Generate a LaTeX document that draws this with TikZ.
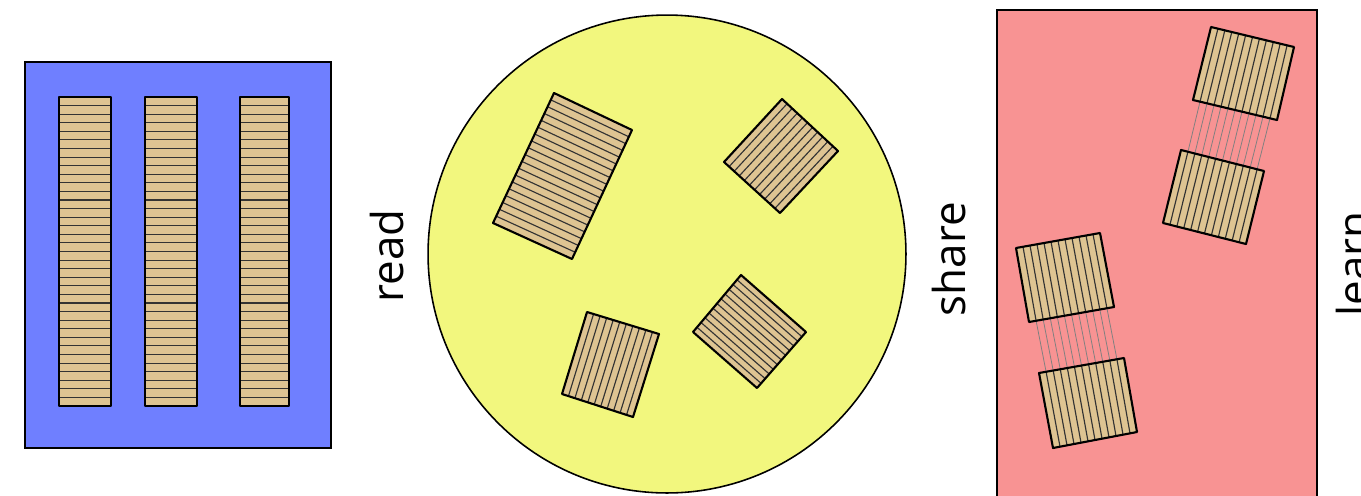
\documentclass[tikz,border=0pt]{standalone}
\usepackage{fontspec}
\newfontfamily\labelfont{Open Sans}
\usepackage{tikz}
\usetikzlibrary{calc}
\definecolor{panelblue}{RGB}{111, 127, 255}
\definecolor{panelyellow}{RGB}{242, 247, 126}
\definecolor{panelred}{RGB}{248, 147, 147}
\definecolor{woodtan}{RGB}{222, 196, 146}

% slatted box: corners #1 #2 #3 #4 in order, #5 slats, lines parallel to #1--#4
\newcommand{\slatbox}[5]{%
  \fill[wood] (#1) -- (#2) -- (#3) -- (#4) -- cycle;
  \pgfmathtruncatemacro{\lastslat}{#5-1}
  \foreach \i in {1,...,\lastslat} {
    \draw[grain] ($(#1)!\i/#5!(#2)$) -- ($(#4)!\i/#5!(#3)$);
  }
  \draw[rim] (#1) -- (#2) -- (#3) -- (#4) -- cycle;
}

\begin{document}
\begin{tikzpicture}[x=0.02cm, y=-0.02cm,
  wood/.style={fill=woodtan},
  grain/.style={black!80, line width=0.65pt},
  rim/.style={black, line width=1.2pt, line join=round},
  thread/.style={black!50, line width=0.45pt},
  caption/.style={rotate=90, inner sep=0pt, font=\labelfont\fontsize{25}{30}\selectfont}]
  \useasboundingbox (0, 0) rectangle (1361, 495);
  \clip (0, 0) rectangle (1361, 495);

  % Panel 1
  \filldraw[fill=panelblue, line width=0.9pt] (25, 62) rectangle (331, 448);
  \foreach \x/\w in {59/111, 145/197, 240/289} {
    \fill[wood] (\x, 97) rectangle (\w, 406);
    \foreach \i in {1,...,35} {
      \draw[grain] (\x, 97+\i*8.583) -- (\w, 97+\i*8.583);
    }
    \draw[rim] (\x, 97) rectangle (\w, 406);
  }

  \node[caption, anchor=base] (read) at (403, 256) {read};

  % Panel 2
  \filldraw[fill=panelyellow, line width=0.9pt] (667, 254) circle (4.78cm);

  % Box 1
  \coordinate (b1t) at (554, 93);
  \coordinate (b1r) at (632, 130);
  \coordinate (b1b) at (572, 259);
  \coordinate (b1l) at (493, 223);
  \slatbox{b1t}{b1l}{b1b}{b1r}{19}

  % Box 2
  \coordinate (b2t) at (782, 99);
  \coordinate (b2r) at (838, 151);
  \coordinate (b2b) at (780, 213);
  \coordinate (b2l) at (724, 162);
  \slatbox{b2t}{b2r}{b2b}{b2l}{11}

  % Box 3
  \coordinate (b3tl) at (587, 312);
  \coordinate (b3tr) at (659, 334);
  \coordinate (b3br) at (633, 417);
  \coordinate (b3bl) at (562, 394);
  \slatbox{b3tl}{b3tr}{b3br}{b3bl}{11}

  % Box 4
  \coordinate (b4t) at (741, 275);
  \coordinate (b4r) at (806, 332);
  \coordinate (b4b) at (757, 388);
  \coordinate (b4l) at (693, 332);
  \slatbox{b4t}{b4l}{b4b}{b4r}{12}

  \node[caption, anchor=base] (share) at (965, 259) {share};

  % Panel 3
  \filldraw[fill=panelred, line width=0.9pt] (997, 10) rectangle (1317, 520);

  % Pair 1
  \coordinate (p1utl) at (1016, 248);
  \coordinate (p1utr) at (1100, 233);
  \coordinate (p1ubr) at (1114, 307);
  \coordinate (p1ubl) at (1029, 322);
  \coordinate (p1ltl) at (1039, 373);
  \coordinate (p1ltr) at (1124, 358);
  \coordinate (p1lbr) at (1137, 432);
  \coordinate (p1lbl) at (1053, 448);
  \foreach \i in {1,...,11} {
    \draw[thread] ($(p1ubl)!\i/12!(p1ubr)$) -- ($(p1ltl)!\i/12!(p1ltr)$);
  }
  \slatbox{p1utl}{p1utr}{p1ubr}{p1ubl}{12}
  \slatbox{p1ltl}{p1ltr}{p1lbr}{p1lbl}{12}

  % Pair 2
  \coordinate (p2utl) at (1211, 27);
  \coordinate (p2utr) at (1294, 47);
  \coordinate (p2ubr) at (1277, 120);
  \coordinate (p2ubl) at (1193, 100);
  \coordinate (p2ltl) at (1181, 150);
  \coordinate (p2ltr) at (1264, 171);
  \coordinate (p2lbr) at (1246, 244);
  \coordinate (p2lbl) at (1163, 223);
  \foreach \i in {1,...,11} {
    \draw[thread] ($(p2ubl)!\i/12!(p2ubr)$) -- ($(p2ltl)!\i/12!(p2ltr)$);
  }
  \slatbox{p2utl}{p2utr}{p2ubr}{p2ubl}{12}
  \slatbox{p2ltl}{p2ltr}{p2lbr}{p2lbl}{12}

  \node[caption, anchor=base west] (learn) at (1369, 317) {learn};
\end{tikzpicture}
\end{document}
